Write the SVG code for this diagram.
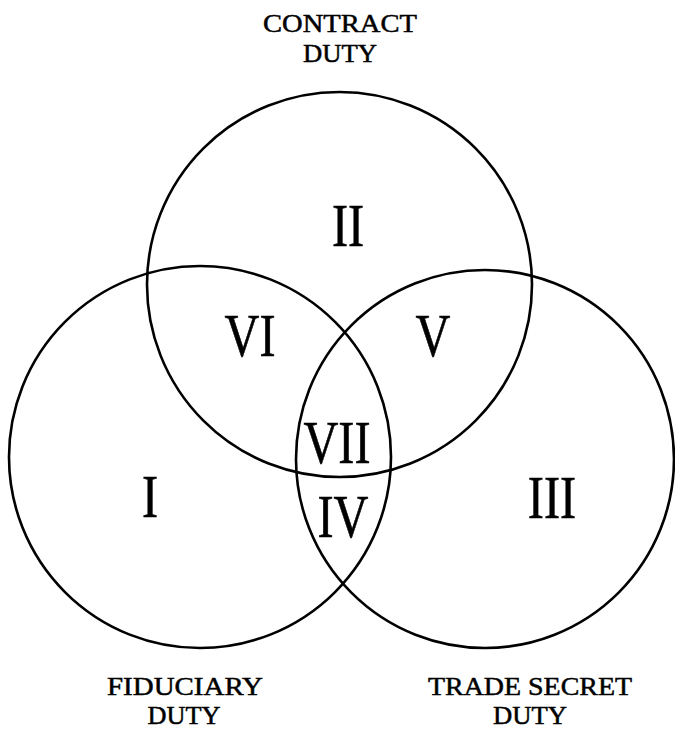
<svg xmlns="http://www.w3.org/2000/svg" width="675" height="730" viewBox="0 0 675 730">
<style>
.c{fill:none;stroke:#000;stroke-width:2.6}
.t{font-family:"Liberation Serif","Times New Roman",serif;fill:#000;text-anchor:middle;stroke:#000;stroke-width:0.5}
.n{font-size:62px;stroke-width:0.6}
.h{font-size:26px}
</style>
<rect width="675" height="730" fill="#fff"/>
<g id="contract">
<circle class="c" cx="339.5" cy="284.5" r="192.5"/>
<text class="t h" x="340" y="32" textLength="154" lengthAdjust="spacingAndGlyphs">CONTRACT</text>
<text class="t h" x="340" y="62" textLength="74" lengthAdjust="spacingAndGlyphs">DUTY</text>
</g>
<g id="fiduciary">
<circle class="c" cx="200" cy="457" r="191"/>
<text class="t h" x="185" y="695" textLength="156" lengthAdjust="spacingAndGlyphs">FIDUCIARY</text>
<text class="t h" x="184" y="724" textLength="73" lengthAdjust="spacingAndGlyphs">DUTY</text>
</g>
<g id="tradesecret">
<circle class="c" cx="485" cy="459" r="189"/>
<text class="t h" x="530" y="695" textLength="204" lengthAdjust="spacingAndGlyphs">TRADE SECRET</text>
<text class="t h" x="530" y="724" textLength="74" lengthAdjust="spacingAndGlyphs">DUTY</text>
</g>
<g id="regions">
<text class="t n" transform="translate(348 246) scale(0.78 1)">II</text>
<text class="t n" transform="translate(250 356) scale(0.78 1)">VI</text>
<text class="t n" transform="translate(433 356) scale(0.78 1)">V</text>
<text class="t n" transform="translate(337 463) scale(0.78 1)">VII</text>
<text class="t n" transform="translate(150 517) scale(0.78 1)">I</text>
<text class="t n" transform="translate(343 537) scale(0.78 1)">IV</text>
<text class="t n" transform="translate(552 518) scale(0.78 1)">III</text>
</g>
</svg>
